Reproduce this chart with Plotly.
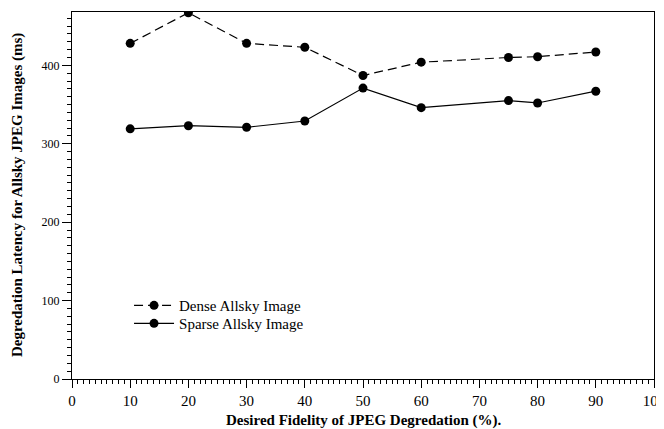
import plotly.graph_objects as go

fidelity = [10, 20, 30, 40, 50, 60, 75, 80, 90]
dense = [428, 467, 428, 423, 387, 404, 410, 411, 417]
sparse = [319, 323, 321, 329, 371, 346, 355, 352, 367]

x_ticks = [0, 10, 20, 30, 40, 50, 60, 70, 80, 90, 100]
y_ticks = [0, 100, 200, 300, 400]

font_family = "Liberation Serif"

fig = go.Figure()
fig.add_trace(go.Scatter(
    x=fidelity, y=dense, name="Dense Allsky Image", mode="lines+markers",
    line=dict(color="black", width=1.2, dash="9px,5px"),
    marker=dict(color="black", size=9), legend="legend",
))
fig.add_trace(go.Scatter(
    x=fidelity, y=sparse, name="Sparse Allsky Image", mode="lines+markers",
    line=dict(color="black", width=1.2),
    marker=dict(color="black", size=9), legend="legend2",
))

legend_style = dict(xanchor="left", yanchor="top", bgcolor="rgba(0,0,0,0)",
                    font=dict(size=15), itemwidth=40, tracegroupgap=0)

# page body adds an 8px offset; sizes compensate so the plot lands where the reference has it
fig.update_layout(
    width=656, height=421,
    margin=dict(l=64, r=10, t=4, b=50),
    paper_bgcolor="white", plot_bgcolor="white",
    font=dict(family=font_family, size=15, color="black"),
    showlegend=True,
    legend=dict(x=0.098, y=0.245, **legend_style),
    legend2=dict(x=0.098, y=0.196, **legend_style),
    annotations=[
        dict(text="<b>Desired Fidelity of JPEG Degredation (%).</b>",
             xref="paper", yref="paper", x=0.5, y=-0.112,
             xanchor="center", yanchor="middle", showarrow=False,
             font=dict(size=15)),
        dict(text="<b>Degredation Latency for Allsky JPEG Images (ms)</b>",
             xref="paper", yref="paper", x=-0.0935, y=0.5, textangle=-90,
             xanchor="center", yanchor="middle", showarrow=False,
             font=dict(size=15)),
    ],
)
fig.update_xaxes(
    range=[0, 100], tickvals=x_ticks,
    ticks="outside", ticklen=8, tickwidth=1, tickcolor="black",
    tickfont=dict(size=15), ticklabeloverflow="allow",
    minor=dict(dtick=1, ticks="outside", ticklen=4, tickcolor="black", tickwidth=1),
    showline=True, linecolor="black", linewidth=1, mirror=True,
    showgrid=False, zeroline=False, automargin=False,
)
fig.update_yaxes(
    range=[0, 468], tickvals=y_ticks,
    ticks="outside", ticklen=9, tickwidth=1, tickcolor="black",
    tickfont=dict(size=12),
    minor=dict(dtick=10, ticks="outside", ticklen=4, tickcolor="black", tickwidth=1),
    showline=True, linecolor="black", linewidth=1, mirror=True,
    showgrid=False, zeroline=False, automargin=False,
)

fig.write_html("out.html")
